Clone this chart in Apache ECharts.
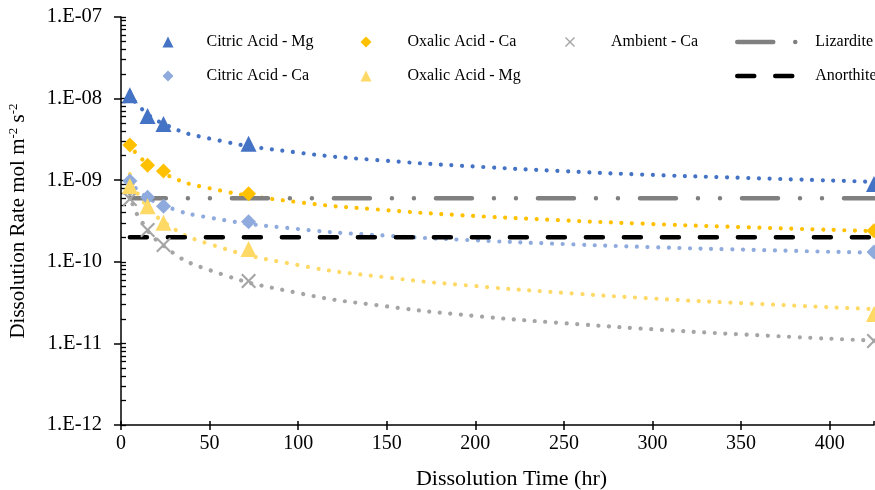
<!DOCTYPE html>
<html>
<head>
<meta charset="utf-8">
<script src="https://cdn.jsdelivr.net/npm/echarts@6/dist/echarts.min.js"></script>
<style>html,body{margin:0;padding:0;background:#fff}#c{width:875px;height:490px}</style>
</head>
<body>
<div id="c"></div>
<script>
// ---- data ----
const obsTimes = [5, 15, 24, 72, 425];
const citricMg = [1.1e-8, 6.1e-9, 4.9e-9, 2.8e-9, 9.0e-10];
const oxalicCa = [2.7e-9, 1.53e-9, 1.3e-9, 6.8e-10, 2.4e-10];
const citricCa = [9.8e-10, 6.2e-10, 4.8e-10, 3.1e-10, 1.32e-10];
const oxalicMg = [8.5e-10, 4.8e-10, 3.0e-10, 1.44e-10, 2.3e-11];
const ambientCa = [5.9e-10, 2.45e-10, 1.61e-10, 5.8e-11, 1.07e-11];

const trendTimes = [5, 10, 25, 50, 100, 150, 200, 250, 300, 350, 425];
const trendCitricMg = [1.20e-8, 8.09e-9, 4.80e-9, 3.24e-9, 2.18e-9, 1.73e-9, 1.47e-9, 1.29e-9, 1.16e-9, 1.07e-9, 9.55e-10];
const trendOxalicCa = [2.90e-9, 1.97e-9, 1.18e-9, 7.96e-10, 5.39e-10, 4.29e-10, 3.64e-10, 3.22e-10, 2.90e-10, 2.66e-10, 2.38e-10];
const trendCitricCa = [1.02e-9, 7.38e-10, 4.82e-10, 3.48e-10, 2.52e-10, 2.09e-10, 1.83e-10, 1.65e-10, 1.51e-10, 1.41e-10, 1.29e-10];
const trendOxalicMg = [1.19e-9, 6.56e-10, 2.99e-10, 1.65e-10, 9.12e-11, 6.44e-11, 5.04e-11, 4.16e-11, 3.55e-11, 3.11e-11, 2.63e-11];
const trendAmbientCa = [6.76e-10, 3.54e-10, 1.51e-10, 7.91e-11, 4.15e-11, 2.84e-11, 2.17e-11, 1.77e-11, 1.49e-11, 1.29e-11, 1.08e-11];

const refTimes = [5, 425];
const lizardite = [6.0e-10, 6.0e-10];
const anorthite = [2.0e-10, 2.0e-10];

const xTicks = [0, 50, 100, 150, 200, 250, 300, 350, 400];
const yDecades = [-12, -11, -10, -9, -8, -7];
// ---- end data ----

const FONT = 'Liberation Serif';
function pairs(xs, ys) { return xs.map((x, i) => [x, ys[i]]); }
const minorVals = [];
yDecades.forEach(e => { for (let k = 1; k <= 9; k++) { const v = k * Math.pow(10, e); if (v <= 1.0000001e-7) minorVals.push(v); } });

const XPATH = 'path://M0,2 L2,0 L10,8 L18,0 L20,2 L12,10 L20,18 L18,20 L10,12 L2,20 L0,18 L8,10 Z';

const C = {
  cmg: '#4472C4', oca: '#FFC000', amb: '#A5A5A5', cca: '#8FAADC', omg: '#FFD966', liz: '#808080', ano: '#000000'
};
const LIZ_DASH = [36, 22, 0.01, 22, 0.01, 22];
const ANO_DASH = [17, 21];
const dotStyle = c => ({ color: c, width: 4.2, type: [0.01, 10.6], cap: 'round' });

function trend(data, c) {
  return { type: 'line', data: data, smooth: true, symbol: 'none', showSymbol: false, silent: true, z: 2,
    lineStyle: dotStyle(c), xAxisIndex: 0, yAxisIndex: 0 };
}
function scatter(name, data, c, symbol, size) {
  return { name: name, type: 'scatter', data: data, symbol: symbol, symbolSize: size, z: 5,
    itemStyle: { color: c, opacity: 1 }, xAxisIndex: 0, yAxisIndex: 0 };
}
function leg(name, left, y, pad, w, h) {
  return { data: [name], left: left, top: y - 6, orient: 'horizontal', itemWidth: w || 11, itemHeight: h || 11,
    padding: 0, selectedMode: false,
    textStyle: { fontFamily: FONT, fontSize: 16, color: '#000', padding: [0, 0, 0, pad], lineHeight: 12 } };
}
function lineLeg(name, y, color, dash) {
  const l = leg(name, 735, y, 11, 62, 12);
  l.itemStyle = { opacity: 0 };
  l.lineStyle = { color: color, width: 4.5, type: dash, cap: 'round', opacity: 1 };
  return l;
}

const chart = echarts.init(document.getElementById('c'), null, { renderer: 'canvas' });
chart.setOption({
  animation: false,
  backgroundColor: '#fff',
  grid: { left: 121, right: 1, top: 17, bottom: 65, containLabel: false, outerBoundsMode: 'none' },
  legend: [
    leg('Citric Acid - Mg', 162.5, 40, 28),
    leg('Citric Acid - Ca', 162.5, 74, 28),
    leg('Oxalic Acid - Ca', 360.5, 40, 31),
    leg('Oxalic Acid - Mg', 360.5, 74, 31),
    leg('Ambient - Ca', 565, 40, 31, 10, 10),
    lineLeg('Lizardite', 40, C.liz, LIZ_DASH),
    lineLeg('Anorthite', 74, C.ano, ANO_DASH)
  ],
  xAxis: [{
    type: 'value', min: 0, max: 425, interval: 50,
    axisLine: { show: true, lineStyle: { color: '#000', width: 1.5 } },
    axisTick: { show: true, inside: false, length: 5, lineStyle: { color: '#000', width: 1.5 } },
    axisLabel: { fontFamily: FONT, fontSize: 20, color: '#000', margin: 9, showMaxLabel: false,
      formatter: v => (xTicks.indexOf(v) >= 0 ? String(v) : '') },
    splitLine: { show: false },
    name: 'Dissolution Time (hr)', nameLocation: 'middle', nameGap: 43,
    nameTextStyle: { fontFamily: FONT, fontSize: 22, color: '#000', padding: [0, 0, 0, 28] }
  }, {
    type: 'value', min: 0, max: 425, interval: 50, position: 'bottom',
    axisLine: { show: false },
    axisTick: { show: true, inside: true, length: 4, lineStyle: { color: '#000', width: 1.5 } },
    axisLabel: { show: false }, splitLine: { show: false }
  }],
  yAxis: [{
    type: 'log', logBase: 10, min: 1e-12, max: 1e-7, interval: 1,
    axisLine: { show: true, lineStyle: { color: '#000', width: 1.5 } },
    axisTick: { show: true, inside: false, length: 7, lineStyle: { color: '#000', width: 1.5 } },
    axisLabel: { fontFamily: FONT, fontSize: 20.5, color: '#000', margin: 19,
      formatter: v => { const e = Math.round(Math.log10(v)); return '1.E-' + String(-e).padStart(2, '0'); } },
    splitLine: { show: false },
    name: 'Dissolution Rate mol m{sup|-2} s{sup|-2}', nameLocation: 'middle', nameGap: 92,
    nameTextStyle: { fontFamily: FONT, fontSize: 21, color: '#000', lineHeight: 22,
      rich: { sup: { fontFamily: FONT, fontSize: 13, color: '#000', verticalAlign: 'top', lineHeight: 22, padding: [0, 0, 8, 0] } } }
  }, {
    type: 'log', logBase: 10, min: 1e-12, max: 1e-7, interval: 1, position: 'left',
    axisLine: { show: false },
    axisTick: { show: true, inside: true, length: 5, customValues: minorVals, lineStyle: { color: '#000', width: 1.3 } },
    axisLabel: { show: false }, splitLine: { show: false }
  }],
  series: [
    { name: 'Lizardite', type: 'line', data: pairs(refTimes, lizardite), symbol: 'none', silent: true, z: 3,
      lineStyle: { color: C.liz, width: 4.5, type: LIZ_DASH, cap: 'round' },
      itemStyle: { color: C.liz } },
    { name: 'Anorthite', type: 'line', data: pairs(refTimes, anorthite), symbol: 'none', silent: true, z: 3,
      lineStyle: { color: C.ano, width: 4.5, type: ANO_DASH, cap: 'round' },
      itemStyle: { color: C.ano } },
    trend(pairs(trendTimes, trendCitricMg), C.cmg),
    trend(pairs(trendTimes, trendOxalicCa), C.oca),
    trend(pairs(trendTimes, trendCitricCa), C.cca),
    trend(pairs(trendTimes, trendOxalicMg), C.omg),
    trend(pairs(trendTimes, trendAmbientCa), C.amb),
    scatter('Citric Acid - Mg', pairs(obsTimes, citricMg), C.cmg, 'triangle', 16),
    scatter('Oxalic Acid - Ca', pairs(obsTimes, oxalicCa), C.oca, 'diamond', 15),
    scatter('Ambient - Ca', pairs(obsTimes, ambientCa), C.amb, XPATH, 15),
    scatter('Citric Acid - Ca', pairs(obsTimes, citricCa), C.cca, 'diamond', 15),
    scatter('Oxalic Acid - Mg', pairs(obsTimes, oxalicMg), C.omg, 'triangle', 16)
  ]
});
</script>
</body>
</html>
